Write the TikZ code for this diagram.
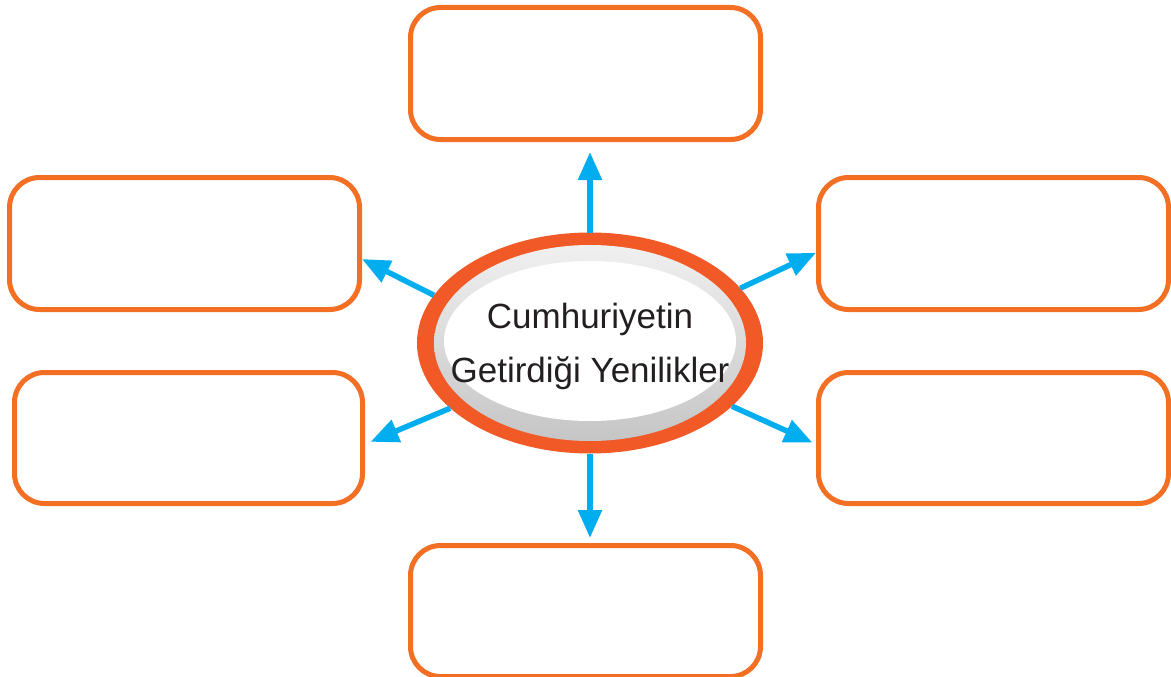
\documentclass[tikz,border=0pt]{standalone}
\usepackage{fontspec}
\usepackage{tikz}
\usetikzlibrary{arrows.meta,shapes.geometric}
\newfontfamily\titlefont{Liberation Sans}
\definecolor{boxorange}{HTML}{F36F24}
\definecolor{ringorange}{HTML}{F15A27}
\definecolor{arrowblue}{HTML}{00AEEF}
\definecolor{inktext}{HTML}{231F20}

\begin{document}
\begin{tikzpicture}[x=1pt,y=-1pt,
  slot/.style={draw=boxorange,line width=5pt,rounded corners=30pt,fill=white,minimum width=350pt,minimum height=132pt},
  ring/.style={ellipse,fill=ringorange,outer sep=0pt,minimum width=346pt,minimum height=221pt},
  halo/.style={ellipse,top color=gray!12,bottom color=gray!45,minimum width=312pt,minimum height=196pt},
  core/.style={ellipse,fill=white,minimum width=292pt,minimum height=160pt},
  link/.style={draw=arrowblue,line width=5.5pt,-{Triangle[length=28pt,width=23pt]}}]
\useasboundingbox (0,0) rectangle (1171,677);
\node[slot] (top) at (585.5,73.5) {};
\node[slot] (lt) at (184.5,243.5) {};
\node[slot,minimum width=348pt,minimum height=131pt] (lb) at (188.5,438) {};
\node[slot] (rt) at (993.5,243.5) {};
\node[slot,minimum height=131pt] (rb) at (993.5,438) {};
\node[slot,minimum height=131pt] (bot) at (585.5,611) {};
\node[ring] (mid) at (590,343) {};
\node[halo] (halo) at (590,343) {};
\node[core] (core) at (590,341) {};
\node[anchor=base,align=center,text=inktext,font=\titlefont\fontsize{35}{54}\selectfont] (title) at (590,382) {Cumhuriyetin\\Getirdiği Yenilikler};
\draw[link,shorten >=10pt] (mid.north) -- (mid.north |- top.south);
\draw[link,shorten >=5pt] (mid.south) -- (mid.south |- bot.north);
\draw[link] (mid.163) -- (lt.-5);
\draw[link,shorten >=6pt] (mid.205) -- (lb.-2);
\draw[link] (mid.20) -- (rt.183);
\draw[link,shorten >=4pt] (mid.-24) -- (rb.182);
\end{tikzpicture}
\end{document}
